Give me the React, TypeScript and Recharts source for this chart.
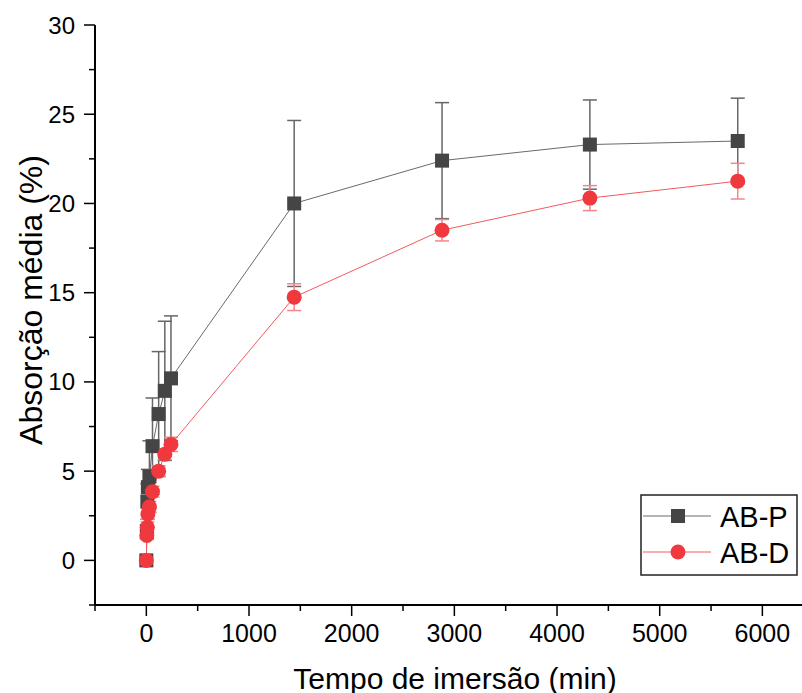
import React from 'react';
import { LineChart, Line, XAxis, YAxis, ErrorBar } from 'recharts';

const times = [0, 5, 10, 15, 30, 60, 120, 180, 240, 1440, 2880, 4320, 5760];
const abP = [0, 1.6, 3.3, 4.1, 4.7, 6.4, 8.2, 9.5, 10.2, 20.0, 22.4, 23.3, 23.5];
const abPErr = [0, 0.4, 1.0, 1.0, 2.0, 2.7, 3.5, 3.9, 3.5, 4.65, 3.25, 2.5, 2.4];
const abD = [0, 1.4, 1.85, 2.6, 3.0, 3.85, 5.0, 5.95, 6.5, 14.75, 18.5, 20.3, 21.25];
const abDErr = [0, 0.2, 0.3, 0.3, 0.3, 0.3, 0.3, 0.3, 0.4, 0.75, 0.6, 0.7, 1.0];

const xTicks = [-500, 0, 500, 1000, 1500, 2000, 2500, 3000, 3500, 4000, 4500, 5000, 5500, 6000];
const yTicks = [-2.5, 0, 2.5, 5, 7.5, 10, 12.5, 15, 17.5, 20, 22.5, 25, 27.5, 30];
const xMajor = [0, 1000, 2000, 3000, 4000, 5000, 6000];
const yMajor = [0, 5, 10, 15, 20, 25, 30];

const seriesNames = ['AB-P', 'AB-D'];
const colorP = '#454545';
const colorPLine = '#6a6a6a';
const colorPErr = '#666666';
const colorD = '#f0393f';
const colorDLine = '#f35a5f';
const colorDErr = '#f6858a';

const data = times.map((t, i) => ({ t, p: abP[i], pErr: abPErr[i], d: abD[i], dErr: abDErr[i] }));

const TICK_SIZE = 11;
const TICK_MARGIN = 2;
const FONT = '"Liberation Sans", Arial, sans-serif';

const YTick = (props: any) => {
  const { x, y, payload } = props;
  const ax = x + TICK_SIZE + TICK_MARGIN;
  const major = yMajor.includes(payload.value);
  const len = major ? 11 : 6;
  return (
    <g>
      <line x1={ax - len} y1={y} x2={ax} y2={y} stroke="#000" strokeWidth={1.5} />
      {major && (
        <text x={ax - 20} y={y} textAnchor="end" dominantBaseline="central" fontSize={24} fontFamily={FONT} fill="#000">
          {payload.value}
        </text>
      )}
    </g>
  );
};

const XTick = (props: any) => {
  const { x, y, payload } = props;
  const ay = y - TICK_SIZE - TICK_MARGIN;
  const major = xMajor.includes(payload.value);
  const len = major ? 11 : 6;
  return (
    <g>
      <line x1={x} y1={ay} x2={x} y2={ay + len} stroke="#000" strokeWidth={1.5} />
      {major && (
        <text x={x} y={ay + 28} textAnchor="middle" dominantBaseline="central" fontSize={25}
          fontFamily={'"Liberation Sans Narrow", "Liberation Sans", Arial, sans-serif'} fill="#000">
          {payload.value}
        </text>
      )}
    </g>
  );
};

const SquareDot = (props: any) => {
  const { cx, cy, index } = props;
  if (cx == null || cy == null) return <g key={`sq-${index}`} />;
  return <rect key={`sq-${index}`} x={cx - 7} y={cy - 7} width={14} height={14} fill={colorP} />;
};

const CircleDot = (props: any) => {
  const { cx, cy, index } = props;
  if (cx == null || cy == null) return <g key={`ci-${index}`} />;
  return <circle key={`ci-${index}`} cx={cx} cy={cy} r={7.5} fill={colorD} />;
};

const YLabel = (props: any) => {
  const vb = props.viewBox || { x: 0, y: 0, width: 95, height: 580 };
  const cx = vb.x + 31;
  const cy = vb.y + vb.height / 2 - 15;
  return (
    <text x={cx} y={cy} transform={`rotate(-90, ${cx}, ${cy})`} textAnchor="middle" dominantBaseline="central"
      fontSize={32} fontFamily={FONT} fill="#000">
      Absorção média (%)
    </text>
  );
};

const XLabel = (props: any) => {
  const vb = props.viewBox || { x: 95, y: 605, width: 707, height: 88 };
  const cx = 455;
  return (
    <text x={cx} y={vb.y + 73} textAnchor="middle" dominantBaseline="central" fontSize={30} fontFamily={FONT} fill="#000">
      Tempo de imersão (min)
    </text>
  );
};

const LegendBox = () => (
  <svg width={160} height={84} style={{ position: 'absolute', left: 640, top: 494 }}>
    <rect x={1} y={1} width={156} height={80} fill="#fff" stroke="#222" strokeWidth={1.5} />
    <line x1={3} y1={22} x2={71} y2={22} stroke={colorPLine} strokeWidth={1} />
    <rect x={31} y={15} width={14} height={14} fill={colorP} />
    <text x={80} y={23} dominantBaseline="central" fontSize={29} fontFamily={FONT} fill="#000">{seriesNames[0]}</text>
    <line x1={3} y1={58} x2={71} y2={58} stroke={colorDLine} strokeWidth={1} />
    <circle cx={38} cy={58} r={7.5} fill={colorD} />
    <text x={80} y={59} dominantBaseline="central" fontSize={29} fontFamily={FONT} fill="#000">{seriesNames[1]}</text>
  </svg>
);

export default function App() {
  return (
    <div style={{ position: 'absolute', left: 0, top: 0, width: 802, height: 693, background: '#fff' }}>
      <LineChart width={802} height={693} data={data} margin={{ top: 25, right: 0, bottom: 0, left: 0 }}>
        <XAxis
          type="number"
          dataKey="t"
          domain={[-500, 6386]}
          ticks={xTicks}
          interval={0}
          height={88}
          tickSize={TICK_SIZE}
          tickMargin={TICK_MARGIN}
          tickLine={false}
          axisLine={{ stroke: '#000', strokeWidth: 2 }}
          tick={<XTick />}
          allowDataOverflow
          label={<XLabel />}
        />
        <YAxis
          type="number"
          domain={[-2.5, 30]}
          ticks={yTicks}
          interval={0}
          width={95}
          tickSize={TICK_SIZE}
          tickMargin={TICK_MARGIN}
          tickLine={false}
          axisLine={{ stroke: '#000', strokeWidth: 2 }}
          tick={<YTick />}
          allowDataOverflow
          label={<YLabel />}
        />
        <Line
          type="linear"
          dataKey="p"
          name={seriesNames[0]}
          stroke={colorPLine}
          strokeWidth={1}
          dot={<SquareDot />}
          isAnimationActive={false}
        >
          <ErrorBar dataKey="pErr" width={7} stroke={colorPErr} strokeWidth={1.5} direction="y" isAnimationActive={false} />
        </Line>
        <Line
          type="linear"
          dataKey="d"
          name={seriesNames[1]}
          stroke={colorDLine}
          strokeWidth={1}
          dot={<CircleDot />}
          isAnimationActive={false}
        >
          <ErrorBar dataKey="dErr" width={7} stroke={colorDErr} strokeWidth={1.5} direction="y" isAnimationActive={false} />
        </Line>
      </LineChart>
      <LegendBox />
    </div>
  );
}
